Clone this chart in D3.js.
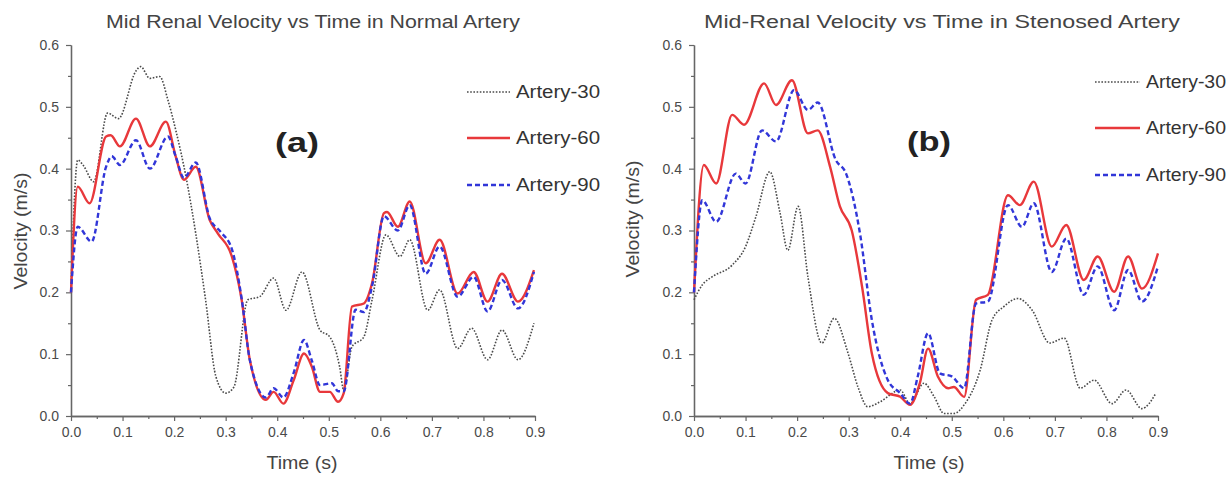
<!DOCTYPE html>
<html>
<head>
<meta charset="utf-8">
<script src="https://cdn.jsdelivr.net/npm/d3@7"></script>
<style>
  body { margin: 0; background: #fff; }
  svg { display: block; font-family: "Liberation Sans", Arial, sans-serif; }
</style>
</head>
<body>
<svg id="chart" width="1232" height="477"></svg>
<script>
// Axis ticks (time in s, velocity in m/s)
const xTicks = [0, 0.1, 0.2, 0.3, 0.4, 0.5, 0.6, 0.7, 0.8, 0.9];
const yTicks = [0, 0.1, 0.2, 0.3, 0.4, 0.5, 0.6];
const xMinor = [0.05, 0.15, 0.25, 0.35, 0.45, 0.55, 0.65, 0.75, 0.85];
const yMinor = [0.05, 0.15, 0.25, 0.35, 0.45, 0.55];

const seriesNames = ["Artery-30", "Artery-60", "Artery-90"];
const panelTitles = ["Mid Renal Velocity vs Time in Normal Artery",
                     "Mid-Renal Velocity vs Time in Stenosed Artery"];
const panelTags = ["(a)", "(b)"];

// Normal artery: [time, velocity]
const normal30 = [[0,0.204],[0.013,0.414],[0.024,0.405],[0.044,0.379],[0.071,0.49],[0.092,0.481],
  [0.126,0.558],[0.135,0.565],[0.153,0.546],[0.172,0.549],[0.188,0.511],[0.203,0.463],[0.223,0.387],
  [0.242,0.295],[0.261,0.188],[0.281,0.064],[0.300,0.037],[0.316,0.047],[0.343,0.188],[0.366,0.193],
  [0.393,0.223],[0.417,0.171],[0.448,0.233],[0.483,0.139],[0.502,0.128],[0.521,0.08],[0.529,0.042],
  [0.545,0.112],[0.568,0.128],[0.584,0.188],[0.611,0.293],[0.638,0.258],[0.657,0.285],[0.692,0.171],
  [0.715,0.204],[0.750,0.109],[0.777,0.142],[0.808,0.091],[0.836,0.139],[0.867,0.091],[0.898,0.15]];
const normal60 = [[0,0.2],[0.013,0.371],[0.036,0.344],[0.068,0.452],[0.077,0.454],[0.095,0.436],
  [0.126,0.481],[0.153,0.436],[0.184,0.476],[0.203,0.42],[0.219,0.382],[0.242,0.403],[0.269,0.317],
  [0.285,0.295],[0.312,0.258],[0.331,0.188],[0.347,0.09],[0.378,0.026],[0.393,0.039],[0.412,0.02],
  [0.432,0.058],[0.452,0.101],[0.467,0.08],[0.483,0.039],[0.502,0.039],[0.518,0.023],[0.529,0.037],
  [0.545,0.177],[0.568,0.182],[0.584,0.215],[0.607,0.328],[0.613,0.33],[0.634,0.306],[0.657,0.347],
  [0.688,0.247],[0.715,0.285],[0.750,0.198],[0.781,0.233],[0.808,0.185],[0.836,0.23],[0.867,0.185],
  [0.898,0.236]];
const normal90 = [[0,0.2],[0.013,0.306],[0.040,0.282],[0.068,0.403],[0.079,0.42],[0.095,0.406],
  [0.126,0.446],[0.153,0.40],[0.188,0.452],[0.203,0.42],[0.219,0.385],[0.242,0.41],[0.269,0.32],
  [0.290,0.298],[0.312,0.27],[0.331,0.19],[0.347,0.09],[0.378,0.03],[0.393,0.045],[0.412,0.03],
  [0.432,0.07],[0.452,0.123],[0.467,0.09],[0.483,0.05],[0.506,0.053],[0.518,0.04],[0.529,0.04],
  [0.552,0.172],[0.568,0.168],[0.584,0.21],[0.607,0.323],[0.634,0.30],[0.657,0.341],[0.688,0.23],
  [0.715,0.274],[0.750,0.193],[0.781,0.225],[0.808,0.169],[0.836,0.22],[0.867,0.174],[0.898,0.233]];

// Stenosed artery: [time, velocity]
const stenosed30 = [[0,0.188],[0.016,0.212],[0.035,0.225],[0.074,0.244],[0.100,0.274],[0.120,0.322],
  [0.147,0.395],[0.167,0.328],[0.182,0.268],[0.202,0.339],[0.221,0.225],[0.248,0.118],[0.272,0.158],
  [0.299,0.101],[0.318,0.047],[0.337,0.015],[0.361,0.023],[0.400,0.042],[0.419,0.02],[0.446,0.053],
  [0.466,0.031],[0.485,0.004],[0.504,0.004],[0.524,0.018],[0.555,0.074],[0.578,0.155],[0.601,0.177],
  [0.628,0.19],[0.656,0.171],[0.690,0.118],[0.718,0.126],[0.749,0.045],[0.776,0.058],[0.811,0.02],
  [0.838,0.042],[0.869,0.012],[0.896,0.037]];
const stenosed60 = [[0,0.2],[0.019,0.406],[0.043,0.376],[0.074,0.487],[0.097,0.471],[0.136,0.538],
  [0.159,0.503],[0.190,0.543],[0.221,0.457],[0.240,0.462],[0.264,0.403],[0.283,0.339],[0.306,0.30],
  [0.326,0.209],[0.345,0.101],[0.376,0.037],[0.400,0.031],[0.419,0.018],[0.438,0.053],[0.454,0.109],
  [0.473,0.064],[0.493,0.045],[0.504,0.047],[0.524,0.031],[0.547,0.188],[0.570,0.196],[0.609,0.357],
  [0.632,0.341],[0.659,0.379],[0.694,0.274],[0.722,0.309],[0.756,0.22],[0.783,0.258],[0.815,0.201],
  [0.842,0.258],[0.869,0.206],[0.900,0.263]];
const stenosed90 = [[0,0.2],[0.016,0.349],[0.043,0.314],[0.081,0.392],[0.100,0.376],[0.132,0.462],
  [0.159,0.444],[0.194,0.527],[0.221,0.495],[0.240,0.507],[0.275,0.414],[0.295,0.392],[0.322,0.295],
  [0.345,0.155],[0.376,0.058],[0.400,0.037],[0.419,0.02],[0.434,0.064],[0.454,0.134],[0.477,0.069],
  [0.500,0.064],[0.524,0.045],[0.547,0.182],[0.570,0.185],[0.609,0.341],[0.636,0.306],[0.659,0.344],
  [0.694,0.233],[0.722,0.287],[0.756,0.196],[0.783,0.242],[0.815,0.171],[0.842,0.236],[0.869,0.185],
  [0.900,0.242]];

const panelData = [[normal30, normal60, normal90], [stenosed30, stenosed60, stenosed90]];

// Line styles for the three arteries
const styles = [
  { stroke: "#4a4a4a", width: 1.6, dash: "1.6,1.6" },
  { stroke: "#e8383b", width: 2.4, dash: null },
  { stroke: "#3136d8", width: 2.4, dash: "5,3" }
];

const layout = [
  { left: 71, right: 535, top: 45, bottom: 416,
    titleX: 313, titleLen: 414, tagX: 297, tagY: 152,
    yLabelX: 21, yLabelY: 231, xLabelX: 302,
    legX: 467, legLen: 43, legTextLen: 84, legY: [92, 138, 185] },
  { left: 694, right: 1158, top: 45, bottom: 416,
    titleX: 942, titleLen: 476, tagX: 929, tagY: 151,
    yLabelX: 633, yLabelY: 219, xLabelX: 929,
    legX: 1095, legLen: 45, legTextLen: 80, legY: [82, 128, 175] }
];

const svg = d3.select("#chart");
const fmt = d3.format(".1f");

layout.forEach((L, p) => {
  const x = d3.scaleLinear().domain([0, 0.9]).range([L.left, L.right]);
  const y = d3.scaleLinear().domain([0, 0.6]).range([L.bottom, L.top]);
  const g = svg.append("g");

  // title
  g.append("text").attr("x", L.titleX).attr("y", 28).attr("text-anchor", "middle")
    .attr("font-size", 18).attr("fill", "#444")
    .attr("textLength", L.titleLen).attr("lengthAdjust", "spacingAndGlyphs")
    .text(panelTitles[p]);

  // axes: major ticks with labels, minor ticks without
  const styleAxis = sel => {
    sel.select(".domain").attr("stroke", "#666").attr("stroke-width", 1.3);
    sel.selectAll(".tick line").attr("stroke", "#666").attr("stroke-width", 1.2);
    sel.selectAll(".tick text").attr("fill", "#4a4a4a").attr("font-size", 14)
      .attr("font-family", "Liberation Sans, Arial, sans-serif");
  };
  g.append("g").attr("transform", `translate(0,${L.bottom})`)
    .call(d3.axisBottom(x).tickValues(xTicks).tickFormat(fmt).tickSize(5).tickPadding(6).tickSizeOuter(0))
    .call(styleAxis);
  g.append("g").attr("transform", `translate(0,${L.bottom})`)
    .call(d3.axisBottom(x).tickValues(xMinor).tickFormat("").tickSize(3).tickSizeOuter(0))
    .call(styleAxis);
  g.append("g").attr("transform", `translate(${L.left},0)`)
    .call(d3.axisLeft(y).tickValues(yTicks).tickFormat(fmt).tickSize(5).tickPadding(7).tickSizeOuter(0))
    .call(styleAxis);
  g.append("g").attr("transform", `translate(${L.left},0)`)
    .call(d3.axisLeft(y).tickValues(yMinor).tickFormat("").tickSize(3).tickSizeOuter(0))
    .call(styleAxis);

  // axis titles
  g.append("text").attr("x", L.xLabelX).attr("y", 469).attr("text-anchor", "middle")
    .attr("font-size", 18).attr("fill", "#444")
    .attr("textLength", 71).attr("lengthAdjust", "spacingAndGlyphs").text("Time (s)");
  g.append("text").attr("transform", `translate(${L.yLabelX},${L.yLabelY}) rotate(-90)`)
    .attr("text-anchor", "middle").attr("dy", "0.35em")
    .attr("font-size", 18).attr("fill", "#444")
    .attr("textLength", 117).attr("lengthAdjust", "spacingAndGlyphs").text("Velocity (m/s)");

  // curves
  const line = d3.line().x(d => x(d[0])).y(d => y(d[1])).curve(d3.curveMonotoneX);
  panelData[p].forEach((data, i) => {
    const s = styles[i];
    g.append("path").datum(data).attr("d", line).attr("fill", "none")
      .attr("stroke", s.stroke).attr("stroke-width", s.width)
      .attr("stroke-dasharray", s.dash).attr("stroke-linejoin", "round");
  });

  // panel tag
  g.append("text").attr("x", L.tagX).attr("y", L.tagY).attr("text-anchor", "middle")
    .attr("font-size", 27).attr("font-weight", "bold").attr("fill", "#222")
    .attr("textLength", 44).attr("lengthAdjust", "spacingAndGlyphs").text(panelTags[p]);

  // legend
  seriesNames.forEach((name, i) => {
    const s = styles[i];
    const ly = L.legY[i];
    g.append("line").attr("x1", L.legX).attr("x2", L.legX + L.legLen)
      .attr("y1", ly).attr("y2", ly)
      .attr("stroke", s.stroke).attr("stroke-width", s.width).attr("stroke-dasharray", s.dash);
    g.append("text").attr("x", L.legX + L.legLen + 6).attr("y", ly).attr("dy", "0.35em")
      .attr("font-size", 18).attr("fill", "#333")
      .attr("textLength", L.legTextLen).attr("lengthAdjust", "spacingAndGlyphs").text(name);
  });
});
</script>
</body>
</html>
